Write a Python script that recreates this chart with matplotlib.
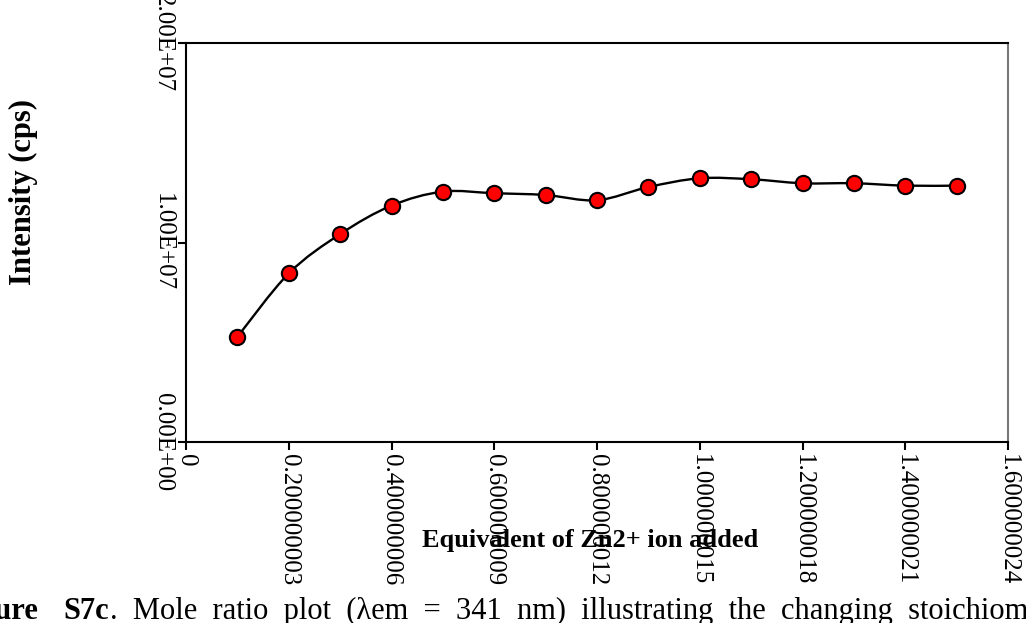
import numpy as np
import matplotlib.pyplot as plt
from matplotlib.path import Path
from matplotlib.patches import PathPatch

# Zn2+ equivalents and emission intensity
equiv = [0.1, 0.2, 0.3, 0.4, 0.5, 0.6, 0.7, 0.8, 0.9, 1.0, 1.1, 1.2, 1.3, 1.4, 1.5]
intensity = [5.27e6, 8.45e6, 1.042e7, 1.185e7, 1.255e7, 1.247e7, 1.238e7, 1.212e7,
             1.278e7, 1.322e7, 1.317e7, 1.297e7, 1.297e7, 1.285e7, 1.285e7]

x_ticks = [0, 0.2, 0.4, 0.6, 0.8, 1.0, 1.2, 1.4, 1.6]
x_tick_labels = ["0", "0.200000003", "0.400000006", "0.600000009", "0.800000012",
                 "1.000000015", "1.200000018", "1.400000021", "1.600000024"]
y_ticks = [0, 1e7, 2e7]
y_tick_labels = ["0.00E+00", "1.00E+07", "2.00E+07"]

plt.rcParams['font.family'] = ['Liberation Serif', 'DejaVu Serif']

W, H = 1026, 623
fig = plt.figure(figsize=(W / 100, H / 100), dpi=100)
ax = fig.add_axes([186 / W, 1 - 442 / H, 822 / W, 399 / H])

# excel-like smoothed line: cubic bezier through the points (catmull-rom)
pts = np.column_stack([equiv, intensity])
ext = np.vstack([pts[0], pts, pts[-1]])
verts = [pts[0]]
codes = [Path.MOVETO]
for i in range(1, len(ext) - 2):
    p0, p1, p2, p3 = ext[i - 1], ext[i], ext[i + 1], ext[i + 2]
    verts += [p1 + (p2 - p0) / 6, p2 - (p3 - p1) / 6, p2]
    codes += [Path.CURVE4] * 3
ax.add_patch(PathPatch(Path(verts, codes), fill=False, edgecolor='black', lw=1.7,
                       transform=ax.transData, zorder=2))
ax.plot(equiv, intensity, ls='none', marker='o', ms=11, mfc='#ff0000', mec='black',
        mew=1.5, zorder=3)

ax.set_xlim(0, 1.6)
ax.set_ylim(0, 2e7)
ax.set_xticks(x_ticks)
ax.set_xticklabels(x_tick_labels, rotation=-90, ha='center', va='top', fontsize=18)
ax.set_yticks(y_ticks)
ax.set_yticklabels(y_tick_labels, rotation=-90, ha='right', va='center', fontsize=18)
ax.tick_params(direction='out', length=6, width=1.5)
ax.tick_params(axis='x', pad=3)
ax.tick_params(axis='y', pad=3)
for s in ['left', 'bottom', 'top']:
    ax.spines[s].set_linewidth(1.5)
ax.spines['right'].set_color('#777777')
ax.spines['right'].set_linewidth(1.5)

fig.text(23 / W, 1 - 192 / H, "Intensity (cps)", rotation=90, ha='center', va='center',
         fontsize=22, fontweight='bold')
fig.text(590 / W, 1 - 541 / H, "Equivalent of Zn2+ ion added", ha='center', va='center',
         fontsize=19, fontweight='bold', zorder=5)

# caption below the chart, cut off at both edges like the source
base = 1 - 619 / H
fig.text(38 / W, base, "Figure", ha='right', va='baseline', fontsize=22, fontweight='bold')
fig.text(63 / W, base, "S7c", ha='left', va='baseline', fontsize=22, fontweight='bold')
fig.text(110 / W, base, ".  Mole  ratio  plot  (\u03bbem  =  341  nm)  illustrating  the  changing  stoichiometry",
         ha='left', va='baseline', fontsize=22)

fig.savefig("out.png", dpi=100)
